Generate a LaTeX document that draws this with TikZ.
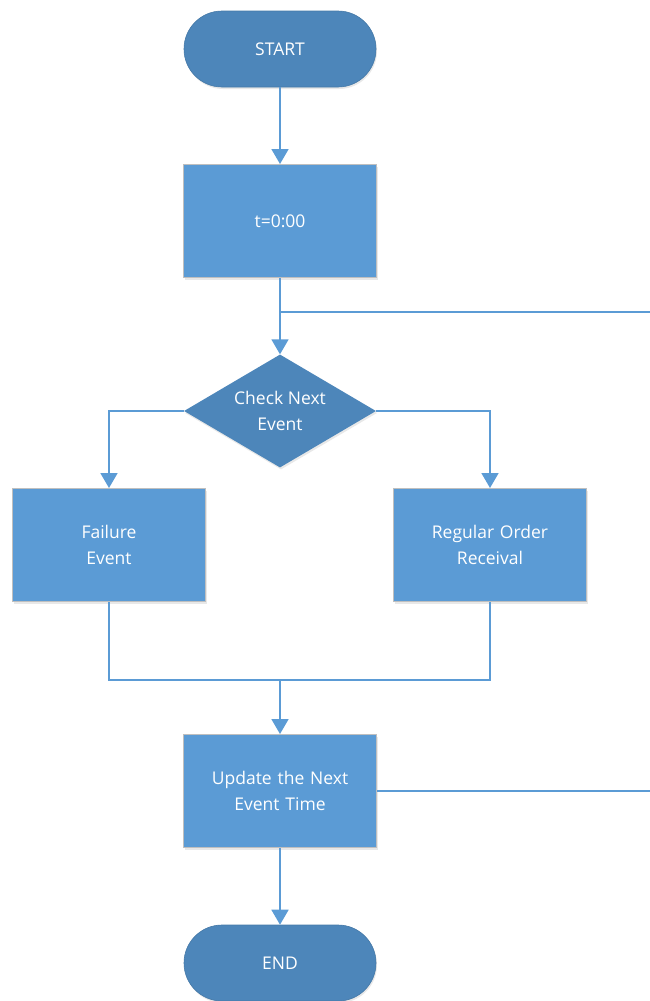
\documentclass[tikz,border=0pt]{standalone}
\usepackage{fontspec}
\setmainfont{Open Sans}
\usepackage{tikz}
\usetikzlibrary{shapes.geometric, arrows.meta, positioning, calc, shadows}
\definecolor{flowdark}{RGB}{77,134,186}
\definecolor{flowlight}{RGB}{91,155,213}
\definecolor{flowline}{RGB}{91,155,213}
\definecolor{flowedge}{RGB}{191,191,191}
\tikzset{
  terminal/.style={rectangle, fill=flowdark, draw=flowdark!90!black,
    minimum width=192pt, minimum height=76pt, rounded corners=38pt,
    text=white, font=\fontsize{17.5}{26}\selectfont, line width=0.6pt,
    drop shadow={shadow xshift=1pt, shadow yshift=-2pt, opacity=0.18}},
  process/.style={rectangle, fill=flowlight, draw=flowedge,
    minimum width=193pt, minimum height=113pt, text width=180pt, align=center,
    text=white, font=\fontsize{17.5}{26}\selectfont, line width=1pt,
    drop shadow={shadow xshift=1pt, shadow yshift=-2pt, opacity=0.18}},
  decision/.style={diamond, fill=flowdark, inner sep=0pt, aspect=1.7,
    minimum width=192pt, minimum height=113pt, align=center,
    text=white, font=\fontsize{17.5}{26}\selectfont,
    drop shadow={shadow xshift=1pt, shadow yshift=-2pt, opacity=0.18}},
  arrow/.style={-{Triangle[width=17pt,length=15pt]}, line width=1.8pt, color=flowline},
  line/.style={line width=1.8pt, color=flowline}
}
\begin{document}
\begin{tikzpicture}[x=1pt, y=-1pt]
  \useasboundingbox (0,0) rectangle (650,1001);

  % Nodes
  \node[terminal] (start) at (280,49) {START};
  \node[process] (init) at (280,221) {t=0:00};
  \node[decision] (check) at (280,411) {Check Next\\Event};
  \node[process] (fail) at (109,545) {Failure\\Event};
  \node[process] (order) at (490,545) {Regular Order\\Receival};
  \node[process] (update) at (280,791) {Update the Next\\Event Time};
  \node[terminal] (finish) at (280,963) {END};

  % Joints and loose ends
  \coordinate (loopin) at (650,312);
  \coordinate (split) at (280,312);
  \coordinate (merge) at (280,680);
  \coordinate (loopout) at (650,791);

  % Connectors
  \draw[arrow] (start) -- (init);
  \draw[arrow] (init) -- (check);
  \draw[line] (split) -- (loopin);
  \draw[arrow] (check.west) -| (fail.north);
  \draw[arrow] (check.east) -| (order.north);
  \draw[line] (fail.south) |- (merge) -| (order.south);
  \draw[arrow] (merge) -- (update);
  \draw[line] (update.east) -- (loopout);
  \draw[arrow] (update) -- (finish);
\end{tikzpicture}
\end{document}
